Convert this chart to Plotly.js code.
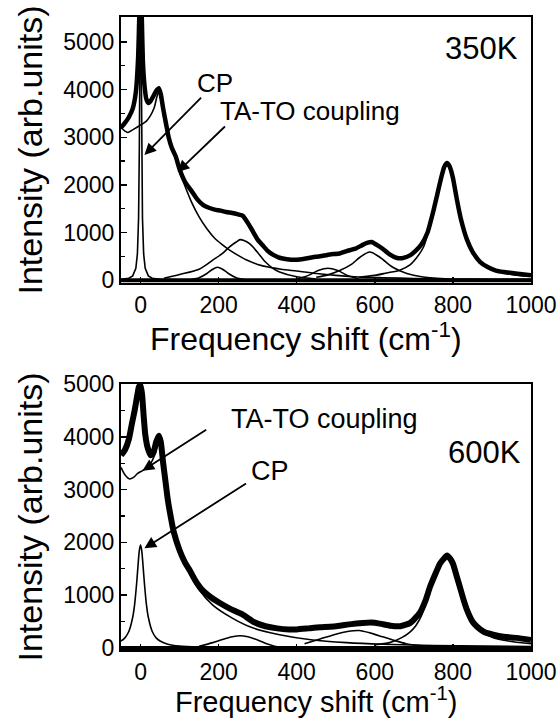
<!DOCTYPE html>
<html><head><meta charset="utf-8">
<script src="https://cdn.plot.ly/plotly-3.0.1.min.js"></script>
<style>html,body{margin:0;padding:0;background:#fff}#chart{width:560px;height:724px}</style>
</head><body><div id="chart"></div>
<script>
// ---------- 350K panel ----------
const dataX350 = [-50,-40,-30,-20,-12,-6,-3,0,3,6,10,15,20,25,32,40,47,52,58,65,72,80,90,100,115,130,145,160,175,190,205,220,235,250,262,275,288,300,313,325,340,356,375,400,420,441,460,485,510,528,550,569,580,592,605,620,638,655,670,690,705,720,735,750,760,770,778,785,792,800,810,820,836,850,870,890,910,930,960,1000];
const dataY350 = [3200,3300,3420,3600,3950,4700,5600,6500,5600,4600,4100,3800,3720,3750,3850,3970,4030,3900,3600,3300,3000,2780,2600,2330,2050,1880,1700,1580,1520,1480,1460,1430,1410,1380,1350,1200,1020,850,730,620,530,470,440,430,450,480,500,540,560,610,660,740,780,800,740,660,540,470,460,520,620,760,1000,1450,1800,2150,2380,2460,2380,2150,1700,1300,850,600,380,270,200,170,140,100];

const cpX350 = [-50,-30,-20,-12,-8,-5,-3,-1.5,0,1.5,3,5,8,12,20,30,50,100];
const cpY350 = [15,40,90,250,550,1300,2800,5000,7000,5000,2800,1300,550,250,90,40,15,5];

const tatoX350 = [-50,-40,-33,-25,-15,-5,5,15,25,35,42,47,52,60,70,80,90,100,115,130,150,170,190,210,230,250,275,300,330,360,400,450,500,560,620,700,800,900,1000];
const tatoY350 = [3200,3130,3100,3130,3180,3230,3280,3340,3450,3620,3850,3950,3800,3400,3050,2800,2550,2280,1950,1650,1330,1080,880,740,620,520,410,330,270,230,190,140,100,65,50,35,25,20,15];

const p200X350 = [130,150,170,185,197,210,225,245,265];
const p200Y350 = [10,50,140,230,270,230,140,50,10];

const p255X350 = [60,100,150,185,210,228,245,255,265,280,300,320,340,356,400,450];
const p255Y350 = [40,120,230,420,560,700,800,850,830,760,580,380,240,170,70,25];

const p480X350 = [400,430,455,480,505,530,560];
const p480Y350 = [20,100,200,250,200,100,20];

const p590X350 = [450,480,510,540,562,587,613,646,682,720,780];
const p590Y350 = [60,110,200,330,480,590,480,270,140,70,30];

const p785X350 = [560,600,630,664,690,708,725,740,755,770,778,785,792,800,815,830,850,870,900,950,1000];
const p785Y350 = [60,100,150,210,320,480,700,1100,1600,2100,2350,2430,2350,2100,1500,1000,600,380,220,120,80];

// ---------- 600K panel ----------
const dataX600 = [-50,-40,-30,-22,-15,-8,-4,0,4,8,12,18,26,33,40,47,52,58,64,70,77,85,100,115,126,140,159,180,203,230,260,290,320,350,380,400,430,460,485,510,540,569,590,613,640,665,690,715,730,741,755,767,778,785,792,800,810,818,827,836,850,862,880,903,930,964,1000];
const dataY600 = [3650,3750,3950,4250,4500,4800,4950,4980,4800,4400,4050,3800,3650,3700,3900,4020,3900,3500,3150,2800,2500,2200,1850,1600,1470,1280,1090,960,850,740,640,490,410,370,350,350,370,390,400,420,450,470,480,460,420,410,470,660,900,1150,1400,1600,1700,1750,1700,1600,1350,1150,920,720,500,400,300,250,210,190,150];

const cpX600 = [-50,-40,-30,-20,-15,-10,-6,-3,0,3,6,10,15,20,30,40,50,70,100,150];
const cpY600 = [130,190,310,580,830,1220,1600,1850,1950,1850,1600,1220,830,580,310,190,130,70,35,15];

const tatoX600 = [-50,-40,-28,-18,-8,5,18,30,38,44,48,53,60,70,80,90,100,115,130,150,185,236,287,356,441,528,620,750,1000];
const tatoY600 = [3420,3280,3200,3230,3300,3360,3420,3550,3700,3850,3900,3800,3350,2800,2450,2150,1900,1600,1350,1100,810,560,380,250,150,100,70,45,25];

const p255X600 = [150,185,210,235,255,275,300,323,350];
const p255Y600 = [30,100,160,210,230,210,150,80,20];

const p580X600 = [420,460,500,530,560,590,620,646,680,720];
const p580Y600 = [80,170,260,310,330,280,210,150,80,40];

const p785X600 = [600,638,670,690,705,720,741,755,767,778,785,792,800,810,820,836,850,870,900,950,1000];
const p785Y600 = [60,100,200,300,420,620,1100,1400,1600,1700,1740,1700,1600,1400,1150,750,500,330,200,120,80];

const baseX = [-50,1000];
const baseY = [0,0];

const tickVals = [0,200,400,600,800,1000];
const yTickVals = [0,1000,2000,3000,4000,5000];

const FONT = 'Liberation Sans, Arial, sans-serif';

function thin(x, y, xa, ya, shape) {
  return {x: x, y: y, xaxis: xa, yaxis: ya, mode: 'lines', type: 'scatter',
    line: {color: '#000', width: 1.6, shape: shape || 'spline', smoothing: 0.8},
    hoverinfo: 'skip', showlegend: false};
}
function thick(x, y, xa, ya, w) {
  return {x: x, y: y, xaxis: xa, yaxis: ya, mode: 'lines', type: 'scatter',
    line: {color: '#000', width: w, shape: 'spline', smoothing: 0.5},
    hoverinfo: 'skip', showlegend: false};
}

const traces = [
  thin(baseX, baseY, 'x', 'y', 'linear'),
  thin(cpX350, cpY350, 'x', 'y', 'linear'),
  thin(tatoX350, tatoY350, 'x', 'y'),
  thin(p200X350, p200Y350, 'x', 'y'),
  thin(p255X350, p255Y350, 'x', 'y'),
  thin(p480X350, p480Y350, 'x', 'y'),
  thin(p590X350, p590Y350, 'x', 'y'),
  thin(p785X350, p785Y350, 'x', 'y'),
  thick(dataX350, dataY350, 'x', 'y', 4.5),
  thin(baseX, baseY, 'x2', 'y2', 'linear'),
  thin(cpX600, cpY600, 'x2', 'y2'),
  thin(tatoX600, tatoY600, 'x2', 'y2'),
  thin(p255X600, p255Y600, 'x2', 'y2'),
  thin(p580X600, p580Y600, 'x2', 'y2'),
  thin(p785X600, p785Y600, 'x2', 'y2'),
  thick(dataX600, dataY600, 'x2', 'y2', 6)
];
traces[0].line.width = 4;
traces[9].line.width = 4;

function xax(anchor) {
  return {anchor: anchor, range: [-50, 1000], tickvals: tickVals, ticks: 'inside', ticklen: 6, tickwidth: 1.5,
    tickcolor: '#000', showline: true, mirror: true, linewidth: 2, linecolor: '#000',
    showgrid: false, zeroline: false, automargin: false,
    tickfont: {family: FONT, size: 23, color: '#000'}};
}
function yax(anchor, domain, range) {
  return {anchor: anchor, domain: domain, range: range, tickvals: yTickVals, ticks: 'inside', ticklen: 6, tickwidth: 1.5,
    tickcolor: '#000', showline: true, mirror: true, linewidth: 2, linecolor: '#000',
    showgrid: false, zeroline: false, automargin: false,
    minor: {tickvals: [500,1500,2500,3500,4500], ticks: 'inside', ticklen: 4, tickcolor: '#000', tickwidth: 1.2},
    tickfont: {family: FONT, size: 23, color: '#000'},
    title: {text: 'Intensity (arb.units)', font: {family: FONT, size: 34, color: '#000'}, standoff: 10}};
}

function arrow(xr, yr, x, y, ax, ay) {
  return {xref: xr, yref: yr, axref: xr, ayref: yr, x: x, y: y, ax: ax, ay: ay, text: '',
    showarrow: true, arrowhead: 2, arrowsize: 1.3, arrowwidth: 1.8, arrowcolor: '#000'};
}
function label(xr, yr, x, y, txt, size) {
  return {xref: xr, yref: yr, x: x, y: y, text: txt, showarrow: false,
    font: {family: FONT, size: size, color: '#000'}, xanchor: 'center', yanchor: 'middle'};
}

const layout = {
  width: 560, height: 724,
  margin: {l: 121, r: 29, t: 17, b: 74},
  paper_bgcolor: '#fff', plot_bgcolor: '#fff',
  showlegend: false,
  xaxis: xax('y'),
  yaxis: yax('x', [0.5798, 1], [-60, 5525]),
  xaxis2: xax('y2'),
  yaxis2: yax('x2', [0, 0.4202], [-40, 5000]),
  annotations: [
    label('paper', 'paper', 0.452, 0.494, 'Frequency shift (cm<sup>-1</sup>)', 32),
    label('paper', 'paper', 0.476, -0.079, 'Frequency shift (cm<sup>-1</sup>)', 29),
    label('x', 'y', 872, 4874, '350K', 31),
    label('x', 'y', 190, 4140, 'CP', 26),
    label('x', 'y', 433, 3550, 'TA-TO coupling', 26),
    arrow('x', 'y', 10, 2626, 159, 3866),
    arrow('x', 'y', 95, 2269, 220, 3256),
    label('x2', 'y2', 882, 3698, '600K', 31),
    label('x2', 'y2', 331, 3358, 'CP', 27),
    label('x2', 'y2', 472, 4340, 'TA-TO coupling', 27),
    arrow('x2', 'y2', 5, 3358, 172, 4150),
    arrow('x2', 'y2', 10, 1887, 274, 3132)
  ]
};

Plotly.newPlot('chart', traces, layout, {displayModeBar: false, staticPlot: true});
</script>
</body></html>
